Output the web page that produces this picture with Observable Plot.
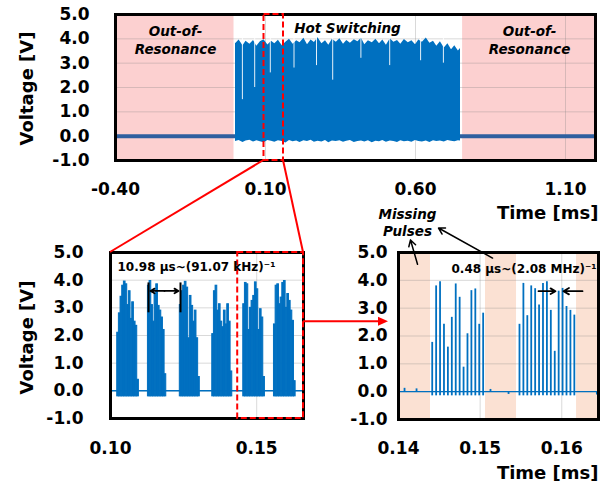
<!DOCTYPE html>
<html><head><meta charset="utf-8">
<script src="https://cdn.jsdelivr.net/npm/d3@7"></script>
<script src="https://cdn.jsdelivr.net/npm/@observablehq/plot@0.6"></script>
<style>
body{margin:0;background:#fff;}
#wrap{position:relative;width:604px;height:491px;overflow:hidden;font-family:"DejaVu Sans",sans-serif;}
</style></head><body><div id="wrap"></div>
<script>
// ---------- data ----------
const yTicks = [-1, 0, 1, 2, 3, 4, 5];
const topTicks = [-0.40, 0.10, 0.60, 1.10];
const blTicks = [0.10, 0.15];
const brTicks = [0.14, 0.15, 0.16];

// top panel: hot-switching envelope (time in ms, upper / lower voltage)
const topT = [0.000,0.012,0.025,0.035,0.048,0.060,0.071,0.083,0.095,0.108,0.120,0.131,0.143,0.156,0.168,0.180,0.192,0.204,0.215,0.228,0.240,0.252,0.263,0.275,0.288,0.300,0.311,0.323,0.336,0.348,0.360,0.371,0.383,0.396,0.408,0.420,0.431,0.443,0.456,0.468,0.480,0.491,0.503,0.516,0.528,0.540,0.551,0.563,0.576,0.588,0.600,0.611,0.623,0.636,0.648,0.660,0.671,0.683,0.696,0.708,0.720,0.731,0.743,0.750];
const topHi = [3.80,3.95,3.72,3.90,3.78,3.93,3.70,3.88,3.96,3.75,3.90,3.80,3.94,3.72,3.86,3.98,3.78,3.92,3.84,4.02,3.76,3.95,3.85,4.04,3.80,3.92,3.74,3.98,3.86,4.00,3.78,3.93,3.82,3.96,3.88,4.02,3.76,3.92,3.84,3.98,3.80,3.95,3.74,4.00,3.86,3.93,3.78,3.97,3.84,3.92,3.76,3.95,3.86,4.03,3.82,3.90,3.70,3.88,3.62,3.80,3.55,3.72,3.50,3.60];
const topLo = [-0.22,-0.18,-0.26,-0.20,-0.17,-0.24,-0.19,-0.23,-0.27,-0.18,-0.21,-0.25,-0.19,-0.22,-0.28,-0.18,-0.23,-0.20,-0.26,-0.19,-0.22,-0.17,-0.25,-0.21,-0.24,-0.18,-0.27,-0.20,-0.22,-0.19,-0.25,-0.21,-0.18,-0.26,-0.22,-0.20,-0.24,-0.19,-0.27,-0.21,-0.23,-0.18,-0.25,-0.20,-0.22,-0.26,-0.19,-0.23,-0.21,-0.25,-0.18,-0.22,-0.24,-0.20,-0.26,-0.19,-0.22,-0.20,-0.24,-0.18,-0.21,-0.23,-0.19,-0.20];
const dipT = [0.023,0.064,0.116,0.195,0.270,0.324,0.418,0.514,0.617,0.693];
const dipLo = [1.5,2.0,2.6,2.8,2.9,2.3,3.2,2.9,3.1,3.0];
const pinkStart = [-0.40, 0.757];
const pinkEnd = [-0.005, 1.20];
const baseStart = [-0.40, 0.75];
const baseEnd = [0.00, 1.20];

// bottom-left: burst start times (ms) and pulse peaks (V)
const blBurstStart = [0.1023, 0.1128, 0.1237, 0.1348, 0.1454, 0.1559];
const blPeaks = [
  [2.1,2.8,3.4,3.8,3.95,3.85,3.1,3.6,2.6,3.2,2.5,2.35,0.4],
  [3.8,3.97,3.1,2.5,3.5,3.85,3.07,2.9,2.65,2.2,0.6],
  [3.1,3.6,3.8,3.94,3.73,1.9,3.43,3.07,2.5,2.9,1.9,0.5],
  [2.05,3.6,3.8,2.9,3.13,2.5,2.3,2.9,2.4,3.13,2.5,0.7],
  [3.13,3.9,3.85,2.2,3.0,3.25,3.43,3.92,3.67,2.2,2.95,2.65,0.5],
  [2.4,3.8,3.85,3.13,3.37,3.9,3.97,3.0,3.5,3.25,2.9,2.53,0.35]
];
const blStep = 0.00057;

// bottom-right: individual pulses
const brBurstStart = [0.14413, 0.15482];
const brPeaks = [
  [1.77,3.8,3.95,2.42,1.6,2.67,3.87,3.39,0.88,2.08,3.63,3.69,2.42,2.82],
  [2.42,3.89,2.73,3.8,3.7,3.11,3.89,3.95,2.92,1.45,3.61,3.71,3.06,2.92,2.75]
];
const pulsePeriod = 0.00048;
const missStart = [0.14, 0.15066, 0.16181];
const missEnd = [0.14392, 0.15446, 0.1645];
const blipT = [0.14074, 0.14221, 0.15127, 0.15348, 0.1643];
const blipV = [0.12, 0.10, 0.08, -0.10, -0.12];

const zoom1 = [0.095, 0.160];
const zoom2 = [0.1435, 0.166];

// ---------- helpers ----------
const BLUE = "#0070c0";
const f1 = d => d.toFixed(1);
const f2 = d => d.toFixed(2);
const baseStyle = {background:"transparent", overflow:"visible", fontFamily:"DejaVu Sans", fontSize:"17px", fontWeight:"bold", color:"#000"};
const grid = {stroke:"#808080", strokeOpacity:0.3, strokeWidth:1};
const annot = {fontFamily:"DejaVu Sans", fontWeight:"bold", fill:"#000"};

const topSignal = topT.map((t,i)=>({t, hi:topHi[i], lo:topLo[i]}));
const dips = dipT.map((t,i)=>({t, lo:dipLo[i]}));
const pinks = pinkStart.map((a,i)=>({a, b:pinkEnd[i]}));
const bases = baseStart.map((a,i)=>({a, b:baseEnd[i]}));
const blPulses = blBurstStart.flatMap((s,k)=>blPeaks[k].map((h,i)=>({t0:s+i*blStep, t1:s+(i+1)*blStep, h})));
const brPulses = brBurstStart.flatMap((s,k)=>brPeaks[k].map((h,i)=>({t:s+i*pulsePeriod, h})));
const misses = missStart.map((a,i)=>({a, b:missEnd[i]}));
const blips = blipT.map((t,i)=>({t, v:blipV[i]}));

const wrap = document.getElementById("wrap");
function place(el, left, top){ el.style.position="absolute"; el.style.left=left+"px"; el.style.top=top+"px"; wrap.appendChild(el); }

// ---------- top panel ----------
const topPlot = Plot.plot({
  width:604, height:232, marginLeft:115, marginRight:9, marginTop:14, marginBottom:72,
  style: baseStyle,
  x:{domain:[-0.4,1.2], ticks:topTicks, tickFormat:f2, tickSize:0, tickPadding:22, label:null},
  y:{domain:[-1,5], ticks:yTicks, tickFormat:f1, tickSize:0, tickPadding:26, label:null},
  marks:[
    Plot.rect(pinks, {x1:"a", x2:"b", y1:-1, y2:5, fill:"#fcd0d0"}),
    Plot.ruleY(yTicks, grid),
    Plot.ruleX(topTicks.slice(1), grid),
    Plot.areaY(topSignal, {x:"t", y1:"lo", y2:"hi", fill:BLUE}),
    Plot.ruleX(dips, {x:"t", y1:"lo", y2:4.1, stroke:"white", strokeWidth:0.9}),
    Plot.ruleY(bases, {x1:"a", x2:"b", y:0, stroke:"#2f5f9f", strokeWidth:4}),
    Plot.frame({stroke:"#000", strokeWidth:3}),
    Plot.rect([zoom1], {x1:d=>d[0], x2:d=>d[1], y1:-1, y2:5, fill:"none", stroke:"#ff0000", strokeWidth:2, strokeDasharray:"6,3"}),
    Plot.text(["Out-of-\nResonance"], {x:-0.2, y:3.98, text:d=>d, ...annot, fontSize:13.5, fontStyle:"italic", lineHeight:1.3}),
    Plot.text(["Out-of-\nResonance"], {x:0.98, y:3.98, text:d=>d, ...annot, fontSize:13.5, fontStyle:"italic", lineHeight:1.3}),
    Plot.text(["Hot Switching"], {x:0.373, y:4.43, text:d=>d, ...annot, fontSize:13.5, fontStyle:"italic"}),
    Plot.text(["Voltage [V]"], {frameAnchor:"left", text:d=>d, textAnchor:"middle", rotate:-90, dx:-88, dy:1, ...annot, fontSize:18}),
    Plot.text(["Time [ms]"], {frameAnchor:"bottom-right", text:d=>d, textAnchor:"end", dx:3, dy:58, ...annot, fontSize:18})
  ]
});
place(topPlot, 0, 0);

// ---------- bottom-left panel ----------
const blPlot = Plot.plot({
  width:320, height:291, marginLeft:110, marginRight:17, marginTop:52, marginBottom:73,
  style: baseStyle,
  x:{domain:[0.10,0.166], ticks:blTicks, tickFormat:f2, tickSize:0, tickPadding:23, label:null},
  y:{domain:[-1,5], ticks:yTicks, tickFormat:f1, tickSize:0, tickPadding:27, label:null},
  marks:[
    Plot.ruleY(yTicks, grid),
    Plot.ruleX([0.15], grid),
    Plot.ruleY([0], {stroke:BLUE, strokeWidth:1.5}),
    Plot.rect(blPulses, {x1:"t0", x2:"t1", y1:-0.2, y2:"h", fill:BLUE, stroke:BLUE, strokeWidth:1}),
    Plot.frame({stroke:"#000", strokeWidth:3}),
    Plot.rect([zoom2], {x1:d=>d[0], x2:d=>d[1], y1:-1, y2:5, fill:"none", stroke:"#ff0000", strokeWidth:2, strokeDasharray:"6,3"}),
    Plot.text(["10.98 µs~(91.07 kHz)\u207B\u00B9"], {x:0.1024, y:4.48, text:d=>d, textAnchor:"start", ...annot, fontSize:12}),
    Plot.ruleX([0.1130, 0.12394], {y1:2.82, y2:3.9, stroke:"#000", strokeWidth:2}),
    Plot.arrow([[0.11847,0.11368],[0.11847,0.12326]], {x1:d=>d[0], x2:d=>d[1], y1:3.61, y2:3.61, stroke:"#000", strokeWidth:1.8, headLength:7}),
    Plot.text(["Voltage [V]"], {frameAnchor:"left", text:d=>d, textAnchor:"middle", rotate:-90, dx:-83, dy:2, ...annot, fontSize:18})
  ]
});
place(blPlot, 0, 200);

// ---------- bottom-right panel ----------
const brPlot = Plot.plot({
  width:284, height:291, marginLeft:78, marginRight:6, marginTop:52, marginBottom:72,
  style: baseStyle,
  x:{domain:[0.14,0.1645], ticks:brTicks, tickFormat:f2, tickSize:0, tickPadding:22, label:null},
  y:{domain:[-1,5], ticks:yTicks, tickFormat:f1, tickSize:0, tickPadding:11, label:null},
  marks:[
    Plot.rect(misses, {x1:"a", x2:"b", y1:-1, y2:5, fill:"#fbe1d3"}),
    Plot.ruleY(yTicks, grid),
    Plot.ruleX([0.15, 0.16], grid),
    Plot.ruleY([0], {stroke:BLUE, strokeWidth:1.2}),
    Plot.ruleX(brPulses, {x:"t", y1:-0.15, y2:"h", stroke:BLUE, strokeWidth:1.8}),
    Plot.ruleX(blips, {x:"t", y1:0, y2:"v", stroke:BLUE, strokeWidth:1.8}),
    Plot.frame({stroke:"#000", strokeWidth:3}),
    Plot.text(["0.48 µs~(2.08 MHz)\u207B\u00B9"], {x:0.14649, y:4.4, text:d=>d, textAnchor:"start", ...annot, fontSize:12}),
    Plot.arrow([[0.15715,0.15923],[0.16254,0.16021]], {x1:d=>d[0], x2:d=>d[1], y1:3.61, y2:3.61, stroke:"#000", strokeWidth:1.8, headLength:7}),
    Plot.text(["Missing\nPulses"], {x:0.1411, y:6.08, text:d=>d, ...annot, fontSize:13.5, fontStyle:"italic", lineHeight:1.26}),
    Plot.arrow([[0.14233,4.58,0.14147,5.45],[0.15152,4.8,0.1449,5.88]], {x1:d=>d[0], y1:d=>d[1], x2:d=>d[2], y2:d=>d[3], stroke:"#000", strokeWidth:1.5, headLength:7}),
    Plot.text(["Time [ms]"], {frameAnchor:"bottom-right", text:d=>d, textAnchor:"end", dy:59, ...annot, fontSize:18})
  ]
});
place(brPlot, 320, 200);

// ---------- red zoom connectors ----------
const tx = topPlot.scale("x"), ty = topPlot.scale("y");
const bx = blPlot.scale("x"), by = blPlot.scale("y");
const rx = brPlot.scale("x");
const ov = d3.select(wrap).append("svg").attr("width",604).attr("height",491)
  .style("position","absolute").style("left","0px").style("top","0px").style("pointer-events","none");
const topBottom = ty.apply(-1), blTop = 200 + by.apply(5);
ov.append("line").attr("x1", tx.apply(zoom1[0])).attr("y1", topBottom).attr("x2", bx.apply(0.10)).attr("y2", blTop)
  .attr("stroke","#ff0000").attr("stroke-width",2);
ov.append("line").attr("x1", tx.apply(zoom1[1])).attr("y1", topBottom).attr("x2", bx.apply(0.166)).attr("y2", blTop)
  .attr("stroke","#ff0000").attr("stroke-width",2);
const ay = 200 + by.apply(2.5), ax0 = bx.apply(0.166), ax1 = 320 + rx.apply(0.14) - 10;
ov.append("line").attr("x1", ax0).attr("y1", ay).attr("x2", ax1 - 8).attr("y2", ay).attr("stroke","#ff0000").attr("stroke-width",2);
ov.append("polygon").attr("points", `${ax1},${ay} ${ax1-10},${ay-4.5} ${ax1-10},${ay+4.5}`).attr("fill","#ff0000");
</script></body></html>
